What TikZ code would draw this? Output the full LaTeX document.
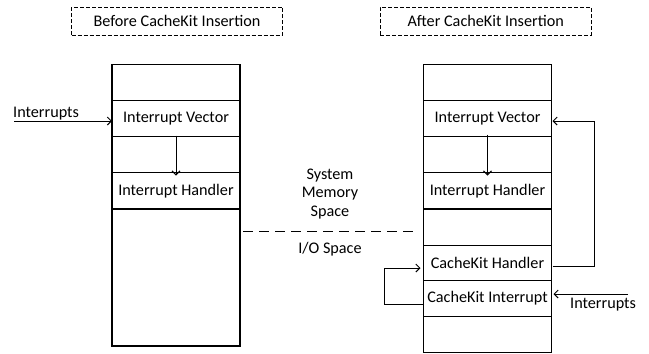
\documentclass[tikz,border=0pt]{standalone}
\usepackage{fontspec}
\setmainfont{Carlito}
\usetikzlibrary{arrows.meta}
\begin{document}
\begin{tikzpicture}[x=1pt,y=-1pt,
  font=\fontsize{16.2}{18.5}\selectfont,
  cell/.style={draw,line width=1.1pt,minimum width=128pt,inner sep=0pt,outer sep=0pt},
  titlebox/.style={draw,line width=1pt,dash pattern=on 4pt off 2pt,minimum width=211pt,minimum height=28pt,inner sep=0pt},
  arr/.style={line width=1pt,-{Straight Barb[length=4pt,width=8pt]}}]
\useasboundingbox (0,0) rectangle (649,354);
% titles
\node[titlebox] (t1) at (177,21) {Before CacheKit Insertion};
\node[titlebox] (t2) at (485.7,21) {After CacheKit Insertion};
% left column
\node[cell,minimum height=36.5pt] (l1) at (176,82.5) {};
\node[cell,minimum height=36pt] (l2) at (176,118.5) {Interrupt Vector};
\node[cell,minimum height=36pt] (l3) at (176,154.5) {};
\node[cell,minimum height=36.5pt] (l4) at (176,190.75) {Interrupt Handler};
\node[cell,minimum height=137pt] (l5) at (176,277.5) {};
% right column
\node[cell,minimum height=36.5pt] (r1) at (487.5,82.5) {};
\node[cell,minimum height=36pt] (r2) at (487.5,118.5) {Interrupt Vector};
\node[cell,minimum height=36pt] (r3) at (487.5,154.5) {};
\node[cell,minimum height=36.5pt] (r4) at (487.5,190.75) {Interrupt Handler};
\node[cell,minimum height=36.5pt] (r5) at (487.5,227.25) {};
\node[cell,minimum height=35pt] (r6) at (487.5,263) {CacheKit Handler};
\node[cell,minimum height=36pt] (r7) at (487.5,298.5) {CacheKit Interrupt};
\node[cell,minimum height=36pt] (r8) at (487.5,334.5) {};
% left arrows
\node[anchor=base west,inner sep=0pt] (li) at (13,117) {Interrupts};
\coordinate (lis) at (14,121);
\draw[arr] (lis) -- (l2.west |- lis);
\draw[arr] ([yshift=1pt]l2.south) -- ([yshift=-3pt]l4.north);
% right arrows
\draw[arr] ([yshift=2pt]r2.south) -- ([yshift=-3pt]r4.north);
\coordinate (fb) at (594,266);
\draw[arr] ([xshift=1pt]r6.east |- fb) -- (fb) -- (594,121) -- ([xshift=1pt]r2.east |- 0,121);
\coordinate (lpA) at (384,304);
\coordinate (lpB) at (384,268);
\draw[arr] ([xshift=-1pt]r7.west |- lpA) -- (lpA) -- (lpB) -- ([xshift=-3pt]r6.west |- lpB);
\coordinate (ris) at (628,294);
\draw[arr] (ris) -- ([xshift=2pt]r7.east |- ris);
\node[anchor=base west,inner sep=0pt] (ri) at (570,308) {Interrupts};
% divider
\coordinate (d1) at (243,231);
\coordinate (d2) at (416,231);
\draw[line width=1pt,dash pattern=on 10pt off 6pt] (d1) -- (d2);
\node[align=center,inner sep=0pt] (sms) at (330,194) {System\\Memory\\Space};
\node[inner sep=0pt] (io) at (330,249) {I/O Space};
\end{tikzpicture}
\end{document}
